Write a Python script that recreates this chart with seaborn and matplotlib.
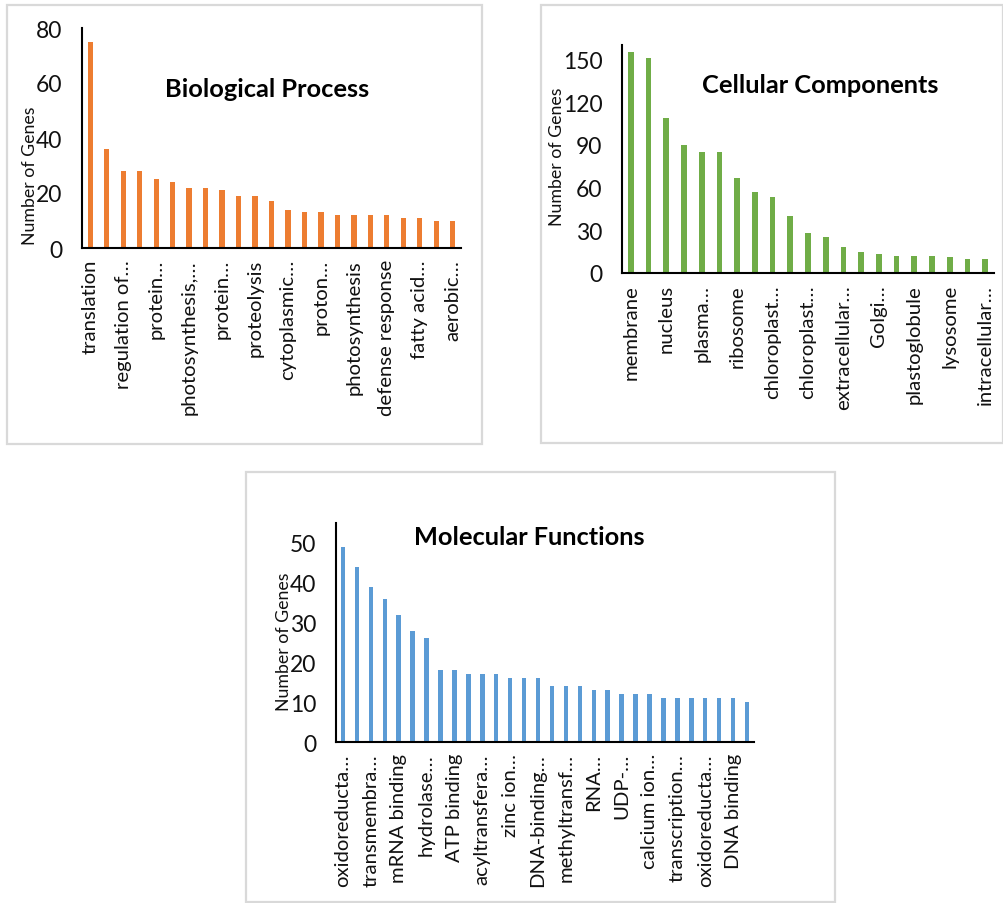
import numpy as np
import pandas as pd
import matplotlib
matplotlib.use("Agg")
import matplotlib.pyplot as plt
from matplotlib.patches import Rectangle
import seaborn as sns

# ---- data ---------------------------------------------------------------
bp_counts = [75, 36, 28, 28, 25, 24, 22, 22, 21, 19, 19, 17, 14, 13, 13,
             12, 12, 12, 12, 11, 11, 10, 10]
bp_labels = ["translation", "regulation of\u2026", "protein\u2026",
             "photosynthesis,\u2026", "protein\u2026", "proteolysis",
             "cytoplasmic\u2026", "proton\u2026", "photosynthesis",
             "defense response", "fatty acid\u2026", "aerobic\u2026"]

cc_counts = [155, 151, 109, 90, 85, 85, 67, 57, 53, 40, 28, 25, 18, 15, 13,
             12, 12, 12, 11, 10, 10]
cc_labels = ["membrane", "nucleus", "plasma\u2026", "ribosome",
             "chloroplast\u2026", "chloroplast\u2026", "extracellular\u2026",
             "Golgi\u2026", "plastoglobule", "lysosome", "intracellular\u2026"]

mf_counts = [49, 44, 39, 36, 32, 28, 26, 18, 18, 17, 17, 17, 16, 16, 16,
             14, 14, 14, 13, 13, 12, 12, 12, 11, 11, 11, 11, 11, 11, 10]
mf_labels = ["oxidoreducta\u2026", "transmembra\u2026", "mRNA binding",
             "hydrolase\u2026", "ATP binding", "acyltransfera\u2026",
             "zinc ion\u2026", "DNA-binding\u2026", "methyltransf\u2026",
             "RNA\u2026", "UDP-\u2026", "calcium ion\u2026",
             "transcription\u2026", "oxidoreducta\u2026", "DNA binding"]

bp_ticks = [0, 20, 40, 60, 80]
cc_ticks = [0, 30, 60, 90, 120, 150]
mf_ticks = [0, 10, 20, 30, 40, 50]

# ---- style --------------------------------------------------------------
sns.set_theme(style="white")
plt.rcParams["font.family"] = ["Lato", "DejaVu Sans"]

W, H = 1004, 904
fig = plt.figure(figsize=(W / 100, H / 100), dpi=100)
fig.patch.set_facecolor("white")

TICK_FS = 16.5
XLAB_FS = 14.6
YLAB_FS = 12.8
TITLE_FS = 18.3


def px_axes(left, top, right, bottom):
    return fig.add_axes([left / W, 1 - bottom / H, (right - left) / W,
                         (bottom - top) / H])


def panel_frame(left, top, right, bottom):
    fig.patches.append(Rectangle((left / W, 1 - bottom / H),
                                 (right - left) / W, (bottom - top) / H,
                                 transform=fig.transFigure, fill=False,
                                 edgecolor="#d9d9d9", linewidth=1.6,
                                 zorder=0))


def draw_panel(box, counts, labels, ticks, ymax, color, title, title_xy,
               ylab_xy):
    ax = px_axes(*box)
    df = pd.DataFrame({"term": np.arange(len(counts)), "genes": counts})
    sns.barplot(data=df, x="term", y="genes", color=color, width=0.32,
                saturation=1, linewidth=0, ax=ax)
    ax.set_xlim(-0.5, len(counts) - 0.5)
    ax.set_ylim(0, ymax)
    ax.set_yticks(ticks)
    ax.set_yticklabels([str(t) for t in ticks], fontsize=TICK_FS)
    ax.set_xticks(np.arange(0, len(counts), 2))
    ax.set_xticklabels(labels, rotation=90, fontsize=XLAB_FS,
                       ha="center", va="top")
    ax.tick_params(axis="y", length=0, pad=14, colors="#111111")
    ax.tick_params(axis="x", length=0, pad=8, colors="#111111")
    ax.set_xlabel("")
    ax.set_ylabel("")
    for side in ("top", "right"):
        ax.spines[side].set_visible(False)
    for side in ("left", "bottom"):
        ax.spines[side].set_color("black")
        ax.spines[side].set_linewidth(1.5)
    ax.set_facecolor("none")
    fig.text(title_xy[0] / W, 1 - title_xy[1] / H, title, ha="center",
             va="baseline", fontsize=TITLE_FS, fontweight="bold",
             color="black")
    fig.text(ylab_xy[0] / W, 1 - ylab_xy[1] / H, "Number of Genes",
             rotation=90, ha="center", va="center", fontsize=YLAB_FS,
             color="#111111")
    return ax


panel_frame(7, 6, 482, 445)
panel_frame(541, 6, 1003, 444)
panel_frame(246, 473, 835, 903)

draw_panel((82, 29, 461, 249), bp_counts, bp_labels, bp_ticks, 80,
           "#ED7D31", "Biological Process", (267, 97), (30, 176))
draw_panel((622, 46, 994, 274), cc_counts, cc_labels, cc_ticks, 160,
           "#70AD47", "Cellular Components", (820, 93), (557, 157))
draw_panel((336, 524, 754, 743), mf_counts, mf_labels, mf_ticks, 55,
           "#5B9BD5", "Molecular Functions", (529, 545), (284, 642))

fig.savefig("out.png", dpi=100, facecolor="white")
